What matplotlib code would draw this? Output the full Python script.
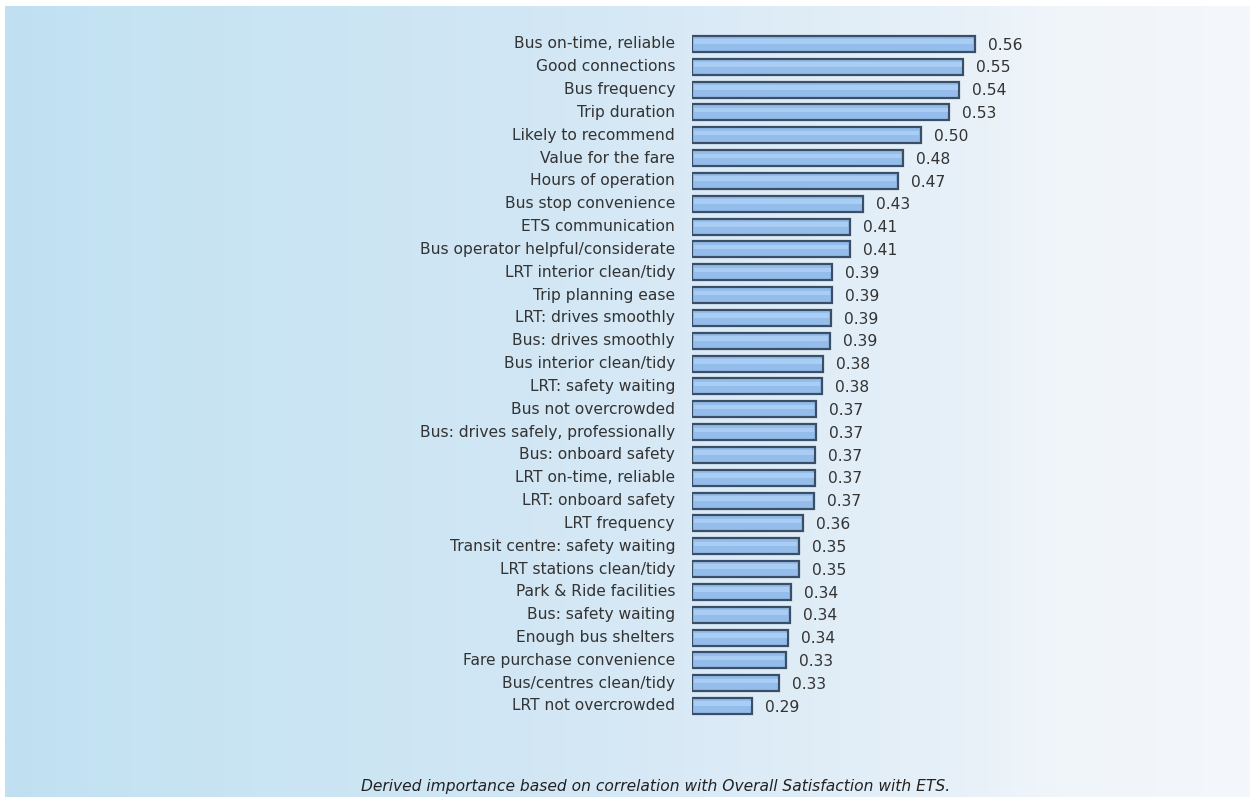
import matplotlib
matplotlib.use("Agg")
import matplotlib.pyplot as plt
import numpy as np

categories = [
    "Bus on-time, reliable", "Good connections", "Bus frequency", "Trip duration",
    "Likely to recommend", "Value for the fare", "Hours of operation",
    "Bus stop convenience", "ETS communication", "Bus operator helpful/considerate",
    "LRT interior clean/tidy", "Trip planning ease", "LRT: drives smoothly",
    "Bus: drives smoothly", "Bus interior clean/tidy", "LRT: safety waiting",
    "Bus not overcrowded", "Bus: drives safely, professionally", "Bus: onboard safety",
    "LRT on-time, reliable", "LRT: onboard safety", "LRT frequency",
    "Transit centre: safety waiting", "LRT stations clean/tidy", "Park & Ride facilities",
    "Bus: safety waiting", "Enough bus shelters", "Fare purchase convenience",
    "Bus/centres clean/tidy", "LRT not overcrowded",
]
importance = [0.56, 0.55, 0.54, 0.53, 0.50, 0.48, 0.47, 0.43, 0.41, 0.41,
              0.39, 0.39, 0.39, 0.39, 0.38, 0.38, 0.37, 0.37, 0.37, 0.37,
              0.37, 0.36, 0.35, 0.35, 0.34, 0.34, 0.34, 0.33, 0.33, 0.29]
bar_ends = [0.563, 0.549, 0.544, 0.532, 0.497, 0.475, 0.469, 0.427, 0.41, 0.41,
            0.389, 0.388, 0.387, 0.386, 0.378, 0.376, 0.369, 0.369, 0.368, 0.368,
            0.366, 0.353, 0.348, 0.348, 0.338, 0.337, 0.335, 0.332, 0.324, 0.291]
caption = "Derived importance based on correlation with Overall Satisfaction with ETS."

W, H = 1250, 797
fig = plt.figure(figsize=(W / 100, H / 100), dpi=100)
fig.patch.set_facecolor("white")

# background gradient
bg = fig.add_axes([5 / W, 0, 1 - 5 / W, 1 - 6 / H])
bg.axis("off")
stops_x = [0.0, 0.1, 0.45, 0.75, 0.85, 1.0]
stops_c = np.array([[192, 224, 243], [197, 227, 242], [211, 231, 245],
                    [230, 240, 248], [240, 245, 250], [244, 247, 251]]) / 255
xs = np.linspace(0, 1, 600)
grad = np.stack([np.interp(xs, stops_x, stops_c[:, i]) for i in range(3)], axis=-1)
bg.imshow(grad[None, :, :], aspect="auto", extent=[0, 1, 0, 1])

# main bar axes
base = 0.2175
px_per_unit = 818.5
ax_left, ax_right = 692, 1150
row_top, row_bot = 44, 706
step = (row_bot - row_top) / (len(categories) - 1)
top_px = row_top - step / 2
bot_px = row_bot + step / 2
ax = fig.add_axes([ax_left / W, 1 - bot_px / H, (ax_right - ax_left) / W, (bot_px - top_px) / H])
ax.patch.set_alpha(0)
ax.set_xlim(base, base + (ax_right - ax_left) / px_per_unit)
ax.set_ylim(len(categories) - 0.5, -0.5)

y = np.arange(len(categories))
ends = np.array(bar_ends)
ax.barh(y, ends - base, left=base, height=0.7, color="#94bdeb",
        edgecolor="#3a4e66", linewidth=1.6)
# subtle lighter stripe for the glossy look
ax.barh(y - 0.1, ends - base - 0.004, left=base + 0.002, height=0.2,
        color="#a9cdf3", linewidth=0)

fs = 11.2
for yi, v, e in zip(y, importance, ends):
    ax.text(e + 13 / px_per_unit, yi + 0.05, f"{v:.2f}", va="center", ha="left",
            fontsize=fs, color="#333333")
    ax.text(base - 17 / px_per_unit, yi, categories[yi], va="center", ha="right",
            fontsize=fs, color="#333333")

ax.axis("off")

fig.text(656 / W, 1 - 787 / H, caption, ha="center", va="center",
         fontsize=11.2, style="italic", color="#222222")

fig.savefig("out.png", dpi=100)
